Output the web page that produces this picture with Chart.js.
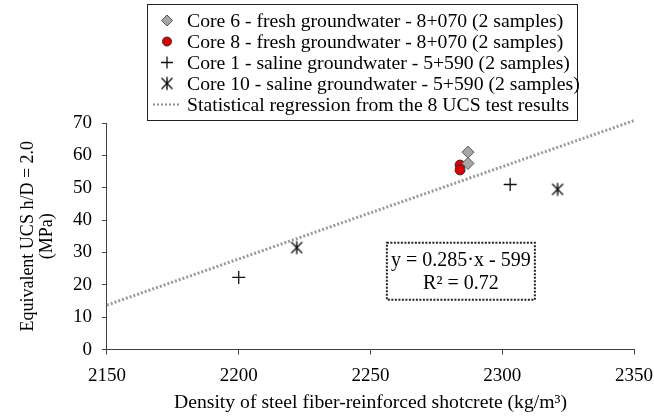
<!DOCTYPE html>
<html>
<head>
<meta charset="utf-8">
<script src="https://cdn.jsdelivr.net/npm/chart.js@4.4.1/dist/chart.umd.min.js"></script>
<style>
  html, body { margin: 0; padding: 0; background: #fff; }
  #wrap { width: 654px; height: 418px; }
</style>
</head>
<body>
<div id="wrap"><canvas id="canvas1" width="654" height="418"></canvas></div>
<script>
// values
const core6X = [2287, 2287];
const core6Y = [61, 57.5];
const core8X = [2284, 2284];
const core8Y = [57, 55.5];
const core1X = [2200, 2303];
const core1Y = [22.3, 51];
const core10X = [2222, 2321];
const core10Y = [31.5, 49.5];
const regX = [2150, 2350];
const regY = [13.75, 70.75];

const xTicks = [2150, 2200, 2250, 2300, 2350];
const yTicks = [0, 10, 20, 30, 40, 50, 60, 70];

const legendLabels = [
    'Core 6 - fresh groundwater - 8+070 (2 samples)',
    'Core 8 - fresh groundwater - 8+070 (2 samples)',
    'Core 1 - saline groundwater - 5+590 (2 samples)',
    'Core 10 - saline groundwater - 5+590 (2 samples)',
    'Statistical regression from the 8 UCS test results'
];
const eqLines = ['y = 0.285\u00B7x - 599', 'R\u00B2 = 0.72'];

const FONT = '"Liberation Serif", "Times New Roman", serif';
const AXIS = '#404040';

const pts = (xs, ys) => xs.map((x, i) => ({x: x, y: ys[i]}));

// asterisk-like marker: X with a vertical bar
const starMark = (() => {
    const c = document.createElement('canvas');
    c.width = 16; c.height = 16;
    const g = c.getContext('2d');
    g.strokeStyle = '#111';
    g.lineWidth = 1.4;
    g.beginPath();
    g.moveTo(2.5, 2.5); g.lineTo(13.5, 13.5);
    g.moveTo(13.5, 2.5); g.lineTo(2.5, 13.5);
    g.moveTo(8, 1.5); g.lineTo(8, 14.5);
    g.stroke();
    return c;
})();

const drawMarker = (ctx, kind, x, y) => {
    ctx.save();
    if (kind === 0) {
        ctx.fillStyle = '#a6a6a6';
        ctx.strokeStyle = '#555';
        ctx.lineWidth = 1;
        ctx.beginPath();
        ctx.moveTo(x, y - 5.5); ctx.lineTo(x + 5.5, y); ctx.lineTo(x, y + 5.5); ctx.lineTo(x - 5.5, y);
        ctx.closePath(); ctx.fill(); ctx.stroke();
    } else if (kind === 1) {
        ctx.fillStyle = '#e00000';
        ctx.strokeStyle = '#333';
        ctx.lineWidth = 1;
        ctx.beginPath(); ctx.arc(x, y, 4.5, 0, Math.PI * 2); ctx.fill(); ctx.stroke();
    } else if (kind === 2) {
        ctx.strokeStyle = '#111';
        ctx.lineWidth = 1.3;
        ctx.beginPath();
        ctx.moveTo(x - 6, y); ctx.lineTo(x + 6, y);
        ctx.moveTo(x, y - 6); ctx.lineTo(x, y + 6);
        ctx.stroke();
    } else if (kind === 3) {
        ctx.drawImage(starMark, x - 8, y - 8);
    } else {
        ctx.strokeStyle = '#8c8c8c';
        ctx.lineWidth = 2;
        ctx.setLineDash([2, 2]);
        ctx.beginPath(); ctx.moveTo(x - 14, y); ctx.lineTo(x + 14, y); ctx.stroke();
    }
    ctx.restore();
};

const extras = {
    id: 'extras',
    afterDraw(chart) {
        const ctx = chart.ctx;
        const xs = chart.scales.x, ys = chart.scales.y;

        // legend box
        ctx.save();
        ctx.strokeStyle = '#222';
        ctx.lineWidth = 1;
        ctx.strokeRect(147.5, 4.5, 430, 116);
        ctx.font = '19.7px ' + FONT;
        ctx.textBaseline = 'middle';
        legendLabels.forEach((t, i) => {
            const y = 20.5 + i * 21;
            drawMarker(ctx, i, 167, y);
            ctx.fillStyle = '#000';
            ctx.fillText(t, 187, y + 1);
        });
        ctx.restore();

        // equation box
        const cx = xs.getPixelForValue(2284.3);
        const cy = ys.getPixelForValue(24.2);
        ctx.save();
        ctx.strokeStyle = '#222';
        ctx.lineWidth = 2;
        ctx.setLineDash([2, 1.5]);
        ctx.strokeRect(cx - 74, cy - 28.5, 148, 57);
        ctx.setLineDash([]);
        ctx.font = '20px ' + FONT;
        ctx.fillStyle = '#000';
        ctx.textAlign = 'center';
        ctx.textBaseline = 'middle';
        ctx.fillText(eqLines[0], cx, cy - 10);
        ctx.fillText(eqLines[1], cx, cy + 13);
        ctx.restore();
    }
};

const data = {
    datasets: [
        {
            type: 'line',
            label: legendLabels[4],
            data: pts(regX, regY),
            borderColor: '#9a9a9a',
            borderWidth: 3,
            borderDash: [2, 2],
            pointRadius: 0,
            clip: false,
            order: 5
        },
        {
            label: legendLabels[0],
            data: pts(core6X, core6Y),
            pointStyle: 'rectRot',
            pointRadius: 6,
            backgroundColor: '#a6a6a6',
            borderColor: '#555',
            borderWidth: 1
        },
        {
            label: legendLabels[1],
            data: pts(core8X, core8Y),
            pointStyle: 'circle',
            pointRadius: 5,
            backgroundColor: '#e00000',
            borderColor: '#333',
            borderWidth: 1
        },
        {
            label: legendLabels[2],
            data: pts(core1X, core1Y),
            pointStyle: 'cross',
            pointRadius: 6.5,
            borderColor: '#111',
            borderWidth: 1.3
        },
        {
            label: legendLabels[3],
            data: pts(core10X, core10Y),
            pointStyle: starMark,
            pointRadius: 8
        }
    ]
};

const config = {
    type: 'scatter',
    data: data,
    options: {
        responsive: false,
        animation: false,
        layout: { padding: { top: 123, right: 20, left: 18.5, bottom: 3 } },
        plugins: {
            legend: { display: false },
            tooltip: { enabled: false }
        },
        scales: {
            x: {
                type: 'linear',
                min: 2150,
                max: 2350,
                afterBuildTicks: (axis) => { axis.ticks = xTicks.map(v => ({value: v})); },
                afterFit: (axis) => { axis.paddingRight = 0; axis.paddingLeft = 0; },
                grid: { drawOnChartArea: false, drawTicks: true, tickLength: 5, color: AXIS },
                border: { color: AXIS, width: 1 },
                ticks: {
                    color: '#000', font: { family: FONT, size: 19 }, padding: 10, maxRotation: 0,
                    callback: (v) => String(v)
                },
                title: {
                    display: true,
                    text: 'Density of steel fiber-reinforced shotcrete (kg/m\u00B3)',
                    color: '#000',
                    font: { family: FONT, size: 19.7 },
                    padding: { top: -6, bottom: 0 }
                }
            },
            y: {
                type: 'linear',
                min: 0,
                max: 70,
                afterBuildTicks: (axis) => { axis.ticks = yTicks.map(v => ({value: v})); },
                grid: { drawOnChartArea: false, drawTicks: true, tickLength: 5, color: AXIS },
                border: { color: AXIS, width: 1 },
                ticks: { color: '#000', font: { family: FONT, size: 19 }, padding: 10, callback: (v) => String(v) },
                title: {
                    display: true,
                    text: ['Equivalent UCS h/D = 2.0', '(MPa)'],
                    color: '#000',
                    font: { family: FONT, size: 18, lineHeight: 1.06 },
                    padding: { top: 0, bottom: 6.3 }
                }
            }
        }
    },
    plugins: [extras]
};

new Chart(document.getElementById('canvas1'), config);
</script>
</body>
</html>
